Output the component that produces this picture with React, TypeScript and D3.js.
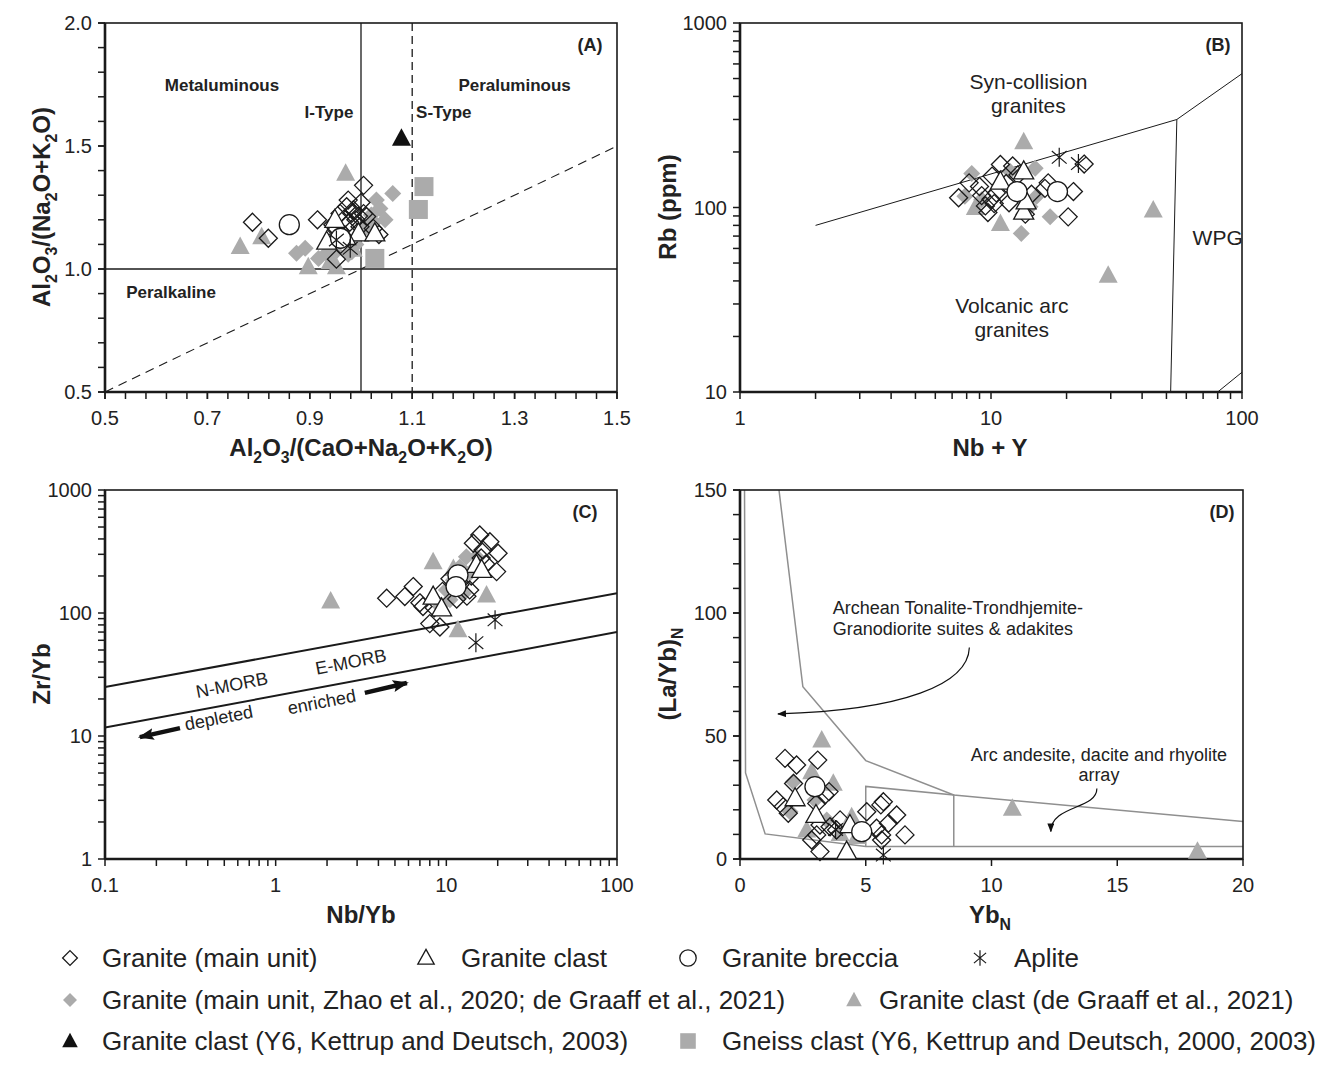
import React from 'react';
import * as d3 from 'd3';

type P = [number, number];

// ---- Panel A: Shand index (A/NK vs A/CNK)
const aGranite: P[] = [
  [0.788, 1.19], [0.819, 1.125], [0.915, 1.2], [1.005, 1.34], [1.0, 1.27], [0.952, 1.04],
  [0.972, 1.253], [0.982, 1.226], [0.99, 1.2], [0.998, 1.172], [0.959, 1.226], [0.952, 1.159],
  [1.011, 1.213], [1.024, 1.165], [0.965, 1.131], [0.975, 1.28], [0.985, 1.24], [0.995, 1.215],
  [0.968, 1.205], [1.035, 1.14], [0.96, 1.1], [0.978, 1.19], [1.005, 1.225], [0.945, 1.18],
];
const aClast: P[] = [[0.949, 1.2], [0.933, 1.111], [0.995, 1.145], [1.027, 1.145], [0.97, 1.13]];
const aBreccia: P[] = [[0.86, 1.18], [0.96, 1.125]];
const aAplite: P[] = [[0.952, 1.118], [0.979, 1.084]];
const aZhao: P[] = [
  [1.062, 1.307], [1.03, 1.28], [1.047, 1.2], [1.037, 1.246], [0.874, 1.064], [0.891, 1.084],
  [0.917, 1.043], [0.933, 1.064], [0.982, 1.07], [0.975, 1.06], [1.02, 1.22], [1.01, 1.17],
  [0.99, 1.1], [0.95, 1.07], [1.025, 1.19], [0.94, 1.05],
];
const aDeGraaff: P[] = [[0.97, 1.389], [0.764, 1.091], [0.806, 1.131], [0.897, 1.009], [0.952, 1.009], [0.985, 1.08], [0.94, 1.03]];
const aKettrup: P[] = [[1.079, 1.531]];
const aGneiss: P[] = [[1.123, 1.335], [1.112, 1.242], [1.027, 1.043]];
const aDiagonal: P[] = [[0.5, 0.5], [1.5, 1.5]];

// ---- Panel B: Rb vs Nb+Y
const bGranite: P[] = [
  [23.5, 172], [21.3, 122], [20.3, 89], [16.4, 127], [16.9, 136], [8.18, 136], [7.43, 113],
  [9.72, 94], [10.9, 171], [10.1, 148], [12.2, 168], [9.18, 116], [11.8, 106], [10, 111],
  [13.7, 92], [9.5, 102], [10.5, 120], [11.5, 135], [12.8, 150], [9.0, 130], [10.3, 105], [14.5, 118],
];
const bClast: P[] = [[10.9, 138], [13.5, 157], [13.5, 95], [13.8, 108]];
const bBreccia: P[] = [[12.7, 122], [18.4, 122]];
const bAplite: P[] = [[18.7, 187], [22.3, 173]];
const bZhao: P[] = [[8.38, 153], [7.87, 115], [13.2, 72.4], [17.2, 89], [15, 163], [11.9, 157], [15.2, 115], [9.18, 110], [14.3, 101]];
const bDeGraaff: P[] = [[13.5, 227], [10.9, 82], [44.3, 97], [29.3, 43], [8.66, 100]];
const bSynColBoundary: P[] = [[2, 80], [55, 300], [400, 2000]];
const bWpgBoundary: P[] = [[50, 1], [55, 300]];
const bOrgBoundary: P[] = [[80, 10], [100, 12.8]];

// ---- Panel C: Zr/Yb vs Nb/Yb
const cGranite: P[] = [
  [4.47, 132], [5.71, 136], [6.4, 164], [15.7, 431], [18, 380], [20.1, 306], [19.7, 217], [8.0, 82],
  [9.17, 77], [7.3, 113], [13.7, 154], [14.4, 369], [16.4, 325], [7.0, 121], [13.2, 137], [10.5, 190],
  [9.5, 150], [8.5, 110], [11.5, 130], [17, 250], [14, 200], [16, 280], [12, 170],
];
const cClast: P[] = [[8.37, 136], [9.38, 109], [15, 246], [16.1, 224]];
const cBreccia: P[] = [[11.7, 204], [11.4, 164]];
const cAplite: P[] = [[19.3, 88], [14.9, 57.4]];
const cZhao: P[] = [[13.1, 287], [12, 237], [11, 185], [10, 154], [13.7, 210], [10.5, 128], [15, 287], [12.6, 144], [9.2, 113]];
const cDeGraaff: P[] = [[2.1, 125], [8.37, 261], [11.7, 73], [17.2, 140], [11, 230]];
const cUpperArray: P[] = [[0.1, 25], [100, 145]];
const cLowerArray: P[] = [[0.1, 11.7], [100, 70]];
const cDepletedArrow: P[] = [[0.275, 11.6], [0.16, 9.8]];
const cEnrichedArrow: P[] = [[3.33, 22.4], [5.87, 27]];

// ---- Panel D: (La/Yb)N vs YbN
const dGranite: P[] = [
  [1.79, 40.9], [2.25, 38.2], [3.09, 40.2], [1.46, 24], [1.92, 18.6], [3.38, 26], [3.18, 13.8],
  [3.05, 9.8], [3.18, 3], [3.84, 11.8], [5.04, 19.2], [5.7, 23.3], [5.6, 22], [6.23, 17.9], [5.9, 14.5],
  [6.56, 9.8], [5.63, 9.8], [5.63, 7.7], [3.58, 13.1], [3.98, 15.9], [5.43, 12.5], [1.72, 21.3],
  [2.85, 7.7], [2.13, 30.7], [3.54, 27.4], [3.05, 22.6],
];
const dClast: P[] = [[2.19, 24.7], [3.02, 17.9], [4.24, 3.0], [4.37, 13.8]];
const dBreccia: P[] = [[2.98, 29.4], [4.84, 11.1]];
const dAplite: P[] = [[5.7, 1.6], [3.8, 12]];
const dZhao: P[] = [[2.12, 31.4], [1.99, 19.2], [2.98, 24], [3.45, 15.9]];
const dDeGraaff: P[] = [[3.25, 48.4], [2.85, 35.5], [3.71, 30.8], [4.44, 17.2], [2.65, 11.8], [3.98, 10.4], [4.64, 9.1], [10.83, 20.6], [18.19, 3.1]];
const dUpperBoundary: P[] = [[1.55, 150], [2.5, 70], [5, 40], [8.5, 26], [20, 15.2]];
const dLowerBoundary: P[] = [[0.18, 150], [0.22, 35], [1, 10.2], [5, 5.1], [20, 5.1]];
const dArcBox: P[] = [[5, 5.1], [5, 29.5], [8.5, 26], [8.5, 5.1]];
const dAdakiteArrow: P[] = [[9.12, 86], [9.07, 71], [6.5, 60.5], [1.51, 59]];
const dArcArrow: P[] = [[14.19, 28.7], [14.19, 20], [12.36, 22], [12.36, 11.2]];

const FONT = '"Liberation Sans", Arial, Helvetica, sans-serif';
const INK = '#1a1a1a';
const GREY = '#ababab';
const FIELD = '#8f8f8f';

type Kind = 'diamond' | 'triangle' | 'circle' | 'aplite' | 'greyDiamond' | 'greyTriangle' | 'blackTriangle' | 'greySquare';

function Mark({ kind, cx, cy, s = 1 }: { kind: Kind; cx: number; cy: number; s?: number }) {
  const tri = (w: number, t: number, b: number) => `M${cx},${cy - t}L${cx + w},${cy + b}L${cx - w},${cy + b}Z`;
  switch (kind) {
    case 'diamond': {
      const r = 9 * s;
      return <path d={`M${cx},${cy - r}L${cx + r},${cy}L${cx},${cy + r}L${cx - r},${cy}Z`} fill="none" stroke={INK} strokeWidth={1.3} />;
    }
    case 'greyDiamond': {
      const r = 8.5 * s;
      return <path d={`M${cx},${cy - r}L${cx + r},${cy}L${cx},${cy + r}L${cx - r},${cy}Z`} fill={GREY} />;
    }
    case 'triangle':
      return <path d={tri(10 * s, 10.5 * s, 7.5 * s)} fill="#fff" stroke={INK} strokeWidth={1.3} />;
    case 'greyTriangle':
      return <path d={tri(9.5 * s, 10 * s, 7.5 * s)} fill={GREY} />;
    case 'blackTriangle':
      return <path d={tri(9.5 * s, 10 * s, 7.5 * s)} fill="#111" />;
    case 'circle':
      return <circle cx={cx} cy={cy} r={10 * s} fill="#fff" stroke={INK} strokeWidth={1.3} />;
    case 'greySquare': {
      const h = 9.5 * s;
      return <rect x={cx - h} y={cy - h} width={2 * h} height={2 * h} fill={GREY} />;
    }
    case 'aplite': {
      const r = 9.5 * s;
      const dx = r * 0.78, dy = r * 0.66;
      return (
        <path
          d={`M${cx},${cy - r}L${cx},${cy + r}M${cx - dx},${cy - dy}L${cx + dx},${cy + dy}M${cx + dx},${cy - dy}L${cx - dx},${cy + dy}`}
          stroke={INK}
          strokeWidth={1.2}
          fill="none"
        />
      );
    }
  }
  return null;
}

type Scale = (v: number) => number;

function Series({ data, kind, x, y }: { data: P[]; kind: Kind; x: Scale; y: Scale }) {
  return (
    <g>
      {data.map((d, i) => (
        <Mark key={i} kind={kind} cx={x(d[0])} cy={y(d[1])} />
      ))}
    </g>
  );
}

function Sub({ parts, size }: { parts: (string | [string])[]; size: number }) {
  // strings are normal text, [string] is a subscript
  const out: React.ReactNode[] = [];
  let down = false;
  parts.forEach((p, i) => {
    if (Array.isArray(p)) {
      out.push(<tspan key={i} dy={down ? 0 : size * 0.28} fontSize={size * 0.66}>{p[0]}</tspan>);
      down = true;
    } else {
      out.push(<tspan key={i} dy={down ? -size * 0.28 : 0}>{p}</tspan>);
      down = false;
    }
  });
  return <>{out}</>;
}

function logMinor(lo: number, hi: number) {
  const out: number[] = [];
  for (let e = Math.log10(lo); e < Math.log10(hi); e++) {
    for (let k = 2; k <= 9; k++) out.push(k * Math.pow(10, e));
  }
  return out;
}

function Frame({
  x, y, xTicks, xLabels, xMinor, yTicks, yLabels, yMinor,
}: {
  x: any; y: any; xTicks: number[]; xLabels: string[]; xMinor: number[]; yTicks: number[]; yLabels: string[]; yMinor: number[];
}) {
  const [x0, x1] = x.range();
  const [y1, y0] = y.range();
  const tk = 7;
  return (
    <g>
      {xMinor.concat(xTicks).map((v, i) => (
        <line key={'xm' + i} x1={x(v)} x2={x(v)} y1={y1} y2={y1 + tk} stroke={INK} strokeWidth={1.5} />
      ))}
      {yMinor.concat(yTicks).map((v, i) => (
        <line key={'ym' + i} x1={x0 - tk} x2={x0} y1={y(v)} y2={y(v)} stroke={INK} strokeWidth={1.5} />
      ))}
      {xTicks.map((v, i) => (
        <text key={'xl' + i} x={x(v)} y={y1 + 33} textAnchor="middle" fontSize={20} fill="#222">{xLabels[i]}</text>
      ))}
      {yTicks.map((v, i) => (
        <text key={'yl' + i} x={x0 - 13} y={y(v) + 7} textAnchor="end" fontSize={20} fill="#222">{yLabels[i]}</text>
      ))}
      <rect x={x0} y={y0} width={x1 - x0} height={y1 - y0} fill="none" stroke={INK} strokeWidth={1.6} />
      <line x1={x0} x2={x1} y1={y1} y2={y1} stroke={INK} strokeWidth={2.6} />
      <line x1={x0} x2={x0} y1={y0} y2={y1} stroke={INK} strokeWidth={2.6} />
    </g>
  );
}

function SeriesSet({ x, y, granite, clast, breccia, aplite, zhao, degraaff, kettrup = [], gneiss = [] }: any) {
  return (
    <g>
      <Series data={gneiss} kind="greySquare" x={x} y={y} />
      <Series data={zhao} kind="greyDiamond" x={x} y={y} />
      <Series data={degraaff} kind="greyTriangle" x={x} y={y} />
      <Series data={kettrup} kind="blackTriangle" x={x} y={y} />
      <Series data={granite} kind="diamond" x={x} y={y} />
      <Series data={clast} kind="triangle" x={x} y={y} />
      <Series data={breccia} kind="circle" x={x} y={y} />
      <Series data={aplite} kind="aplite" x={x} y={y} />
    </g>
  );
}

const legendRows: { kind: Kind; mx: number; tx: number; row: number; label: string }[] = [
  { kind: 'diamond', mx: 70, tx: 102, row: 0, label: 'Granite (main unit)' },
  { kind: 'triangle', mx: 426, tx: 461, row: 0, label: 'Granite clast' },
  { kind: 'circle', mx: 688, tx: 722, row: 0, label: 'Granite breccia' },
  { kind: 'aplite', mx: 980, tx: 1014, row: 0, label: 'Aplite' },
  { kind: 'greyDiamond', mx: 70, tx: 102, row: 1, label: 'Granite (main unit, Zhao et al., 2020; de Graaff et al., 2021)' },
  { kind: 'greyTriangle', mx: 854, tx: 879, row: 1, label: 'Granite clast (de Graaff et al., 2021)' },
  { kind: 'blackTriangle', mx: 70, tx: 102, row: 2, label: 'Granite clast (Y6, Kettrup and Deutsch, 2003)' },
  { kind: 'greySquare', mx: 688, tx: 722, row: 2, label: 'Gneiss clast (Y6, Kettrup and Deutsch, 2000, 2003)' },
];
const legendY = [958, 1000, 1041];

export default function App() {
  const A = { x: d3.scaleLinear().domain([0.5, 1.5]).range([105, 617]), y: d3.scaleLinear().domain([0.5, 2]).range([392, 23]) };
  const B = { x: d3.scaleLog().domain([1, 100]).range([740, 1242]), y: d3.scaleLog().domain([10, 1000]).range([392, 23]) };
  const C = { x: d3.scaleLog().domain([0.1, 100]).range([105, 617]), y: d3.scaleLog().domain([1, 1000]).range([859, 490]) };
  const D = { x: d3.scaleLinear().domain([0, 20]).range([740, 1243]), y: d3.scaleLinear().domain([0, 150]).range([859, 490]) };

  const line = (s: any) => d3.line<P>().x((d) => s.x(d[0])).y((d) => s.y(d[1]));
  const curve = (s: any, p: P[]) =>
    `M${s.x(p[0][0])},${s.y(p[0][1])}C${s.x(p[1][0])},${s.y(p[1][1])} ${s.x(p[2][0])},${s.y(p[2][1])} ${s.x(p[3][0])},${s.y(p[3][1])}`;

  const clip = (id: string, s: any) => {
    const [x0, x1] = s.x.range();
    const [y1, y0] = s.y.range();
    return (
      <clipPath id={id}>
        <rect x={x0} y={y0} width={x1 - x0} height={y1 - y0} />
      </clipPath>
    );
  };

  const bold = { fontWeight: 700 } as const;
  const axisTitle = 24;

  return (
    <svg
      width={1333}
      height={1069}
      style={{ position: 'absolute', left: 0, top: 0, background: '#fff' }}
      fontFamily={FONT}
    >
      <defs>
        {clip('clipA', A)}
        {clip('clipB', B)}
        {clip('clipC', C)}
        {clip('clipD', D)}
        <marker id="headBig" markerUnits="userSpaceOnUse" markerWidth={16} markerHeight={12} refX={14} refY={6} orient="auto">
          <path d="M0,0L16,6L0,12L3,6Z" fill="#111" />
        </marker>
        <marker id="headSmall" markerUnits="userSpaceOnUse" markerWidth={9} markerHeight={7} refX={8} refY={3.5} orient="auto">
          <path d="M0,0L9,3.5L0,7Z" fill="#111" />
        </marker>
      </defs>

      {/* ---------- Panel A ---------- */}
      <g clipPath="url(#clipA)">
        <line x1={A.x(1)} x2={A.x(1)} y1={A.y(2)} y2={A.y(0.5)} stroke={INK} strokeWidth={1.3} />
        <line x1={A.x(0.5)} x2={A.x(1.5)} y1={A.y(1)} y2={A.y(1)} stroke={INK} strokeWidth={1.3} />
        <line x1={A.x(1.1)} x2={A.x(1.1)} y1={A.y(2)} y2={A.y(0.5)} stroke={INK} strokeWidth={1.3} strokeDasharray="8 5" />
        <path d={line(A)(aDiagonal) || ''} stroke={INK} strokeWidth={1.1} strokeDasharray="9 6" fill="none" />
      </g>
      <Frame
        x={A.x} y={A.y}
        xTicks={[0.5, 0.7, 0.9, 1.1, 1.3, 1.5]} xLabels={['0.5', '0.7', '0.9', '1.1', '1.3', '1.5']}
        xMinor={d3.range(0, 26).map((i) => 0.5 + i * 0.04)}
        yTicks={[0.5, 1, 1.5, 2]} yLabels={['0.5', '1.0', '1.5', '2.0']}
        yMinor={d3.range(0, 16).map((i) => 0.5 + i * 0.1)}
      />
      <g fontSize={17} {...bold} fill="#222" textAnchor="middle">
        <text x={A.x(0.7285)} y={A.y(1.748) + 6}>Metaluminous</text>
        <text x={A.x(1.3)} y={A.y(1.748) + 6}>Peraluminous</text>
        <text x={A.x(0.9375)} y={A.y(1.638) + 6}>I-Type</text>
        <text x={A.x(1.1617)} y={A.y(1.638) + 6}>S-Type</text>
        <text x={A.x(0.629)} y={A.y(0.906) + 6}>Peralkaline</text>
        <text x={590} y={51} fontSize={18}>(A)</text>
      </g>
      <SeriesSet x={A.x} y={A.y} granite={aGranite} clast={aClast} breccia={aBreccia} aplite={aAplite} zhao={aZhao} degraaff={aDeGraaff} kettrup={aKettrup} gneiss={aGneiss} />
      <text x={361} y={456} textAnchor="middle" fontSize={axisTitle} {...bold} fill="#222">
        <Sub size={axisTitle} parts={['Al', ['2'], 'O', ['3'], '/(CaO+Na', ['2'], 'O+K', ['2'], 'O)']} />
      </text>
      <text transform="translate(50,207) rotate(-90)" textAnchor="middle" fontSize={axisTitle} {...bold} fill="#222">
        <Sub size={axisTitle} parts={['Al', ['2'], 'O', ['3'], '/(Na', ['2'], 'O+K', ['2'], 'O)']} />
      </text>

      {/* ---------- Panel B ---------- */}
      <g clipPath="url(#clipB)" fill="none" stroke={INK} strokeWidth={1}>
        <path d={line(B)(bSynColBoundary) || ''} />
        <path d={line(B)(bWpgBoundary) || ''} />
        <path d={line(B)(bOrgBoundary) || ''} />
      </g>
      <Frame
        x={B.x} y={B.y}
        xTicks={[1, 10, 100]} xLabels={['1', '10', '100']} xMinor={logMinor(1, 100)}
        yTicks={[10, 100, 1000]} yLabels={['10', '100', '1000']} yMinor={logMinor(10, 1000)}
      />
      <g fontSize={21} fill="#222" textAnchor="middle">
        <text x={B.x(14.1)} y={B.y(481) + 7}>Syn-collision</text>
        <text x={B.x(14.1)} y={B.y(355) + 7}>granites</text>
        <text x={B.x(12.1)} y={B.y(29.3) + 7}>Volcanic arc</text>
        <text x={B.x(12.1)} y={B.y(21.7) + 7}>granites</text>
        <text x={B.x(80)} y={B.y(68.4) + 7}>WPG</text>
        <text x={1218} y={51} fontSize={18} {...bold}>(B)</text>
      </g>
      <SeriesSet x={B.x} y={B.y} granite={bGranite} clast={bClast} breccia={bBreccia} aplite={bAplite} zhao={bZhao} degraaff={bDeGraaff} />
      <text x={990} y={456} textAnchor="middle" fontSize={axisTitle} {...bold} fill="#222">Nb + Y</text>
      <text transform="translate(676,207) rotate(-90)" textAnchor="middle" fontSize={axisTitle} {...bold} fill="#222">Rb (ppm)</text>

      {/* ---------- Panel C ---------- */}
      <g clipPath="url(#clipC)" fill="none" stroke={INK} strokeWidth={2}>
        <path d={line(C)(cUpperArray) || ''} />
        <path d={line(C)(cLowerArray) || ''} />
      </g>
      <Frame
        x={C.x} y={C.y}
        xTicks={[0.1, 1, 10, 100]} xLabels={['0.1', '1', '10', '100']} xMinor={logMinor(0.1, 100)}
        yTicks={[1, 10, 100, 1000]} yLabels={['1', '10', '100', '1000']} yMinor={logMinor(1, 1000)}
      />
      <g fontSize={18} fill="#222" textAnchor="middle">
        <text transform={`translate(${C.x(0.562)},${C.y(26) + 6}) rotate(-11)`}>N-MORB</text>
        <text transform={`translate(${C.x(2.8)},${C.y(40) + 6}) rotate(-11)`}>E-MORB</text>
        <text transform={`translate(${C.x(0.472)},${C.y(14) + 6}) rotate(-11)`}>depleted</text>
        <text transform={`translate(${C.x(1.89)},${C.y(18.9) + 6}) rotate(-11)`}>enriched</text>
        <text x={585} y={518} {...bold}>(C)</text>
      </g>
      <line
        x1={C.x(cDepletedArrow[0][0])} y1={C.y(cDepletedArrow[0][1])}
        x2={C.x(cDepletedArrow[1][0])} y2={C.y(cDepletedArrow[1][1])}
        stroke="#111" strokeWidth={4.5} markerEnd="url(#headBig)"
      />
      <line
        x1={C.x(cEnrichedArrow[0][0])} y1={C.y(cEnrichedArrow[0][1])}
        x2={C.x(cEnrichedArrow[1][0])} y2={C.y(cEnrichedArrow[1][1])}
        stroke="#111" strokeWidth={4.5} markerEnd="url(#headBig)"
      />
      <SeriesSet x={C.x} y={C.y} granite={cGranite} clast={cClast} breccia={cBreccia} aplite={cAplite} zhao={cZhao} degraaff={cDeGraaff} />
      <text x={361} y={923} textAnchor="middle" fontSize={axisTitle} {...bold} fill="#222">Nb/Yb</text>
      <text transform="translate(50,674) rotate(-90)" textAnchor="middle" fontSize={axisTitle} {...bold} fill="#222">Zr/Yb</text>

      {/* ---------- Panel D ---------- */}
      <g clipPath="url(#clipD)" fill="none" stroke={FIELD} strokeWidth={1.5}>
        <path d={line(D)(dUpperBoundary) || ''} />
        <path d={line(D)(dLowerBoundary) || ''} />
        <path d={line(D)(dArcBox) || ''} />
      </g>
      <Frame
        x={D.x} y={D.y}
        xTicks={[0, 5, 10, 15, 20]} xLabels={['0', '5', '10', '15', '20']} xMinor={[]}
        yTicks={[0, 50, 100, 150]} yLabels={['0', '50', '100', '150']}
        yMinor={d3.range(0, 16).map((i) => i * 10)}
      />
      <path d={curve(D, dAdakiteArrow)} fill="none" stroke="#111" strokeWidth={1.2} markerEnd="url(#headSmall)" />
      <path d={curve(D, dArcArrow)} fill="none" stroke="#111" strokeWidth={1.2} markerEnd="url(#headSmall)" />
      <g fontSize={18} fill="#222">
        <text x={D.x(3.69)} y={D.y(102) + 6}>Archean Tonalite-Trondhjemite-</text>
        <text x={D.x(3.69)} y={D.y(93.5) + 6}>Granodiorite suites &amp; adakites</text>
        <text x={D.x(14.27)} y={D.y(42.3) + 6} textAnchor="middle">Arc andesite, dacite and rhyolite</text>
        <text x={D.x(14.27)} y={D.y(34.1) + 6} textAnchor="middle">array</text>
        <text x={1222} y={518} textAnchor="middle" {...bold}>(D)</text>
      </g>
      <SeriesSet x={D.x} y={D.y} granite={dGranite} clast={dClast} breccia={dBreccia} aplite={dAplite} zhao={dZhao} degraaff={dDeGraaff} />
      <text x={990} y={923} textAnchor="middle" fontSize={axisTitle} {...bold} fill="#222">
        <Sub size={axisTitle} parts={['Yb', ['N']]} />
      </text>
      <text transform="translate(676,674) rotate(-90)" textAnchor="middle" fontSize={axisTitle} {...bold} fill="#222">
        <Sub size={axisTitle} parts={['(La/Yb)', ['N']]} />
      </text>

      {/* ---------- Legend ---------- */}
      {legendRows.map((r, i) => (
        <g key={i}>
          <Mark kind={r.kind} cx={r.mx} cy={legendY[r.row]} s={0.82} />
          <text x={r.tx} y={legendY[r.row] + 9} fontSize={26} fill="#222">{r.label}</text>
        </g>
      ))}
    </svg>
  );
}
